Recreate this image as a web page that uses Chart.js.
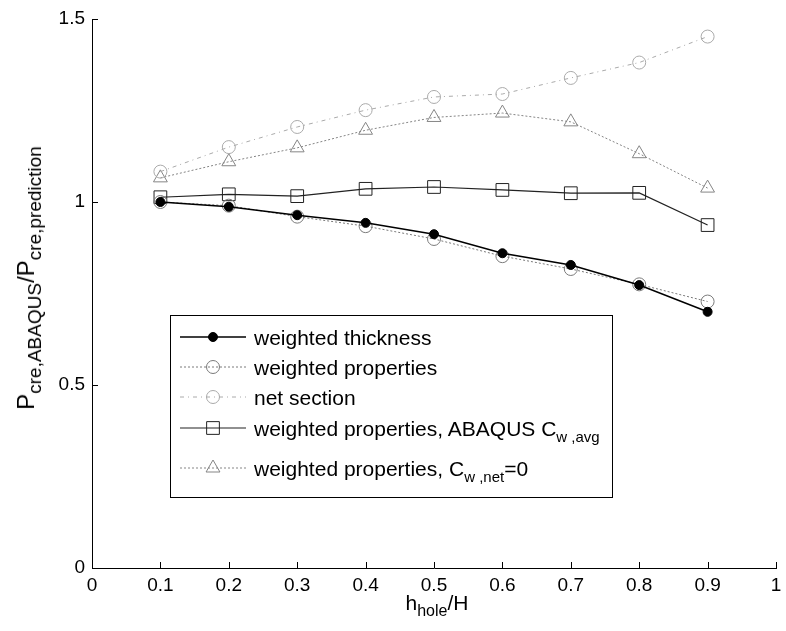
<!DOCTYPE html>
<html>
<head>
<meta charset="utf-8">
<script src="https://cdn.jsdelivr.net/npm/chart.js@4"></script>
<style>
  html, body { margin: 0; padding: 0; background: #fff; }
  #wrap { position: relative; width: 786px; height: 631px; font-family: "Liberation Sans", Arial, sans-serif; color: #000; }
  #chart { position: absolute; left: 0; top: 0; }
  .lbl { position: absolute; font-size: 21px; line-height: 21px; white-space: nowrap; }
  .lbl sub { font-size: 15px; vertical-align: -6px; line-height: 0; }
  #xTitle { left: 437px; top: 592px; transform: translateX(-50%); }
  #xTitle sub { font-size: 16px; }
  #yTitle { left: 26px; top: 278px; font-size: 24px; line-height: 24px; transform: translate(-50%, -50%) rotate(-90deg); }
  #yTitle sub { font-size: 19px; vertical-align: -7px; }
</style>
</head>
<body>
<div id="wrap">
  <canvas id="chart" width="786" height="631"></canvas>
  <div class="lbl" id="xTitle">h<sub>hole</sub>/H</div>
  <div class="lbl" id="yTitle">P<sub>cre,ABAQUS</sub>/P<sub>cre,prediction</sub></div>
  <div class="lbl" style="left:254px; top:327px">weighted thickness</div>
  <div class="lbl" style="left:254px; top:357px">weighted properties</div>
  <div class="lbl" style="left:254px; top:387px">net section</div>
  <div class="lbl" style="left:254px; top:418px">weighted properties, ABAQUS C<sub>w ,avg</sub></div>
  <div class="lbl" style="left:254px; top:458px">weighted properties, C<sub>w ,net</sub>=0</div>
</div>
<script>
// data
const holeRatio = [0.1, 0.2, 0.3, 0.4, 0.5, 0.6, 0.7, 0.8, 0.9];
const weightedThickness = [1.0, 0.987, 0.964, 0.943, 0.912, 0.86, 0.828, 0.773, 0.70];
const weightedProps = [1.0, 0.99, 0.96, 0.934, 0.899, 0.852, 0.817, 0.775, 0.728];
const netSection = [1.083, 1.15, 1.205, 1.251, 1.287, 1.295, 1.339, 1.381, 1.452];
const abaqusCwAvg = [1.013, 1.021, 1.016, 1.036, 1.041, 1.033, 1.024, 1.025, 0.937];
const cwNetZero = [1.066, 1.11, 1.148, 1.196, 1.231, 1.243, 1.219, 1.132, 1.038];
const xTicks = [0, 0.1, 0.2, 0.3, 0.4, 0.5, 0.6, 0.7, 0.8, 0.9, 1];
const yTicks = [0, 0.5, 1, 1.5];

const pts = ys => holeRatio.map((x, i) => ({ x: x, y: ys[i] }));
const clear = 'rgba(0,0,0,0)';

const datasets = [
  { data: pts(weightedThickness), borderColor: '#000', borderWidth: 1.5,
    pointStyle: 'circle', pointRadius: 4.5, pointBackgroundColor: '#000', pointBorderColor: '#000' },
  { data: pts(weightedProps), borderColor: '#7a7a7a', borderWidth: 1, borderDash: [2, 2],
    pointStyle: 'circle', pointRadius: 6.5, pointBackgroundColor: clear, pointBorderColor: '#7a7a7a' },
  { data: pts(netSection), borderColor: '#aaa', borderWidth: 1, borderDash: [4, 4, 1, 4],
    pointStyle: 'circle', pointRadius: 6.5, pointBackgroundColor: clear, pointBorderColor: '#aaa' },
  { data: pts(abaqusCwAvg), borderColor: '#222', borderWidth: 1.2,
    pointStyle: 'rect', pointRadius: 9, pointBackgroundColor: clear, pointBorderColor: '#222' },
  { data: pts(cwNetZero), borderColor: '#858585', borderWidth: 1, borderDash: [2, 2],
    pointStyle: 'triangle', pointRadius: 8, pointBackgroundColor: clear, pointBorderColor: '#858585' }
];
datasets.forEach(d => { d.fill = false; d.tension = 0; d.pointBorderWidth = 1; });

// legend rows (center y in pixels)
const legendRows = [337, 367, 397, 428, 468];

const legendBox = {
  id: 'legendBox',
  afterDraw(chart) {
    const ctx = chart.ctx;
    ctx.save();
    ctx.fillStyle = '#fff';
    ctx.fillRect(170, 315, 442, 182);
    ctx.strokeStyle = '#000';
    ctx.lineWidth = 1;
    ctx.strokeRect(170.5, 315.5, 442, 182);
    chart.data.datasets.forEach((d, i) => {
      const y = legendRows[i];
      ctx.strokeStyle = d.borderColor;
      ctx.lineWidth = d.borderWidth;
      ctx.setLineDash(d.borderDash || []);
      ctx.beginPath();
      ctx.moveTo(180, y);
      ctx.lineTo(246, y);
      ctx.stroke();
      ctx.setLineDash([]);
      ctx.fillStyle = d.pointBackgroundColor;
      ctx.strokeStyle = d.pointBorderColor;
      ctx.lineWidth = 1;
      Chart.helpers.drawPoint(ctx, { pointStyle: d.pointStyle, radius: d.pointRadius, rotation: 0, borderWidth: 1 }, 213, y);
    });
    ctx.restore();
  }
};

// matlab-style inward tick marks
const innerTicks = {
  id: 'innerTicks',
  afterDraw(chart) {
    const ctx = chart.ctx;
    const xs = chart.scales.x, ys = chart.scales.y;
    const a = chart.chartArea;
    ctx.save();
    ctx.strokeStyle = '#000';
    ctx.lineWidth = 1;
    ctx.beginPath();
    xs.ticks.forEach(t => {
      const px = Math.round(xs.getPixelForValue(t.value)) + 0.5;
      ctx.moveTo(px, a.bottom);
      ctx.lineTo(px, a.bottom - 6);
    });
    ys.ticks.forEach(t => {
      const py = Math.round(ys.getPixelForValue(t.value)) + 0.5;
      ctx.moveTo(a.left, py);
      ctx.lineTo(a.left + 6, py);
    });
    ctx.stroke();
    ctx.restore();
  }
};

const tickFont = { family: '"Liberation Sans", Arial, sans-serif', size: 19 };

new Chart(document.getElementById('chart'), {
  type: 'line',
  data: { datasets: datasets },
  options: {
    responsive: false,
    animation: false,
    events: [],
    layout: { padding: { top: 19, right: 3, left: 0, bottom: 0 } },
    plugins: { legend: { display: false }, tooltip: { enabled: false } },
    scales: {
      x: {
        type: 'linear', min: 0, max: 1,
        afterBuildTicks: s => { s.ticks = xTicks.map(v => ({ value: v })); },
        afterFit: s => { s.height = 63; s.paddingLeft = 0; s.paddingRight = 0; },
        ticks: { font: tickFont, color: '#000', padding: 6, maxRotation: 0, autoSkip: false,
                 callback: v => String(Number(v.toFixed(1))) },
        grid: { display: false, drawTicks: false },
        border: { display: true, color: '#000', width: 1 }
      },
      y: {
        min: 0, max: 1.5,
        afterBuildTicks: s => { s.ticks = yTicks.map(v => ({ value: v })); },
        afterFit: s => { s.width = 92; s.paddingTop = 0; s.paddingBottom = 0; },
        ticks: { font: tickFont, color: '#000', padding: 7, autoSkip: false,
                 callback: v => String(Number(v.toFixed(1))) },
        grid: { display: false, drawTicks: false },
        border: { display: true, color: '#000', width: 1 }
      }
    }
  },
  plugins: [innerTicks, legendBox]
});
</script>
</body>
</html>
